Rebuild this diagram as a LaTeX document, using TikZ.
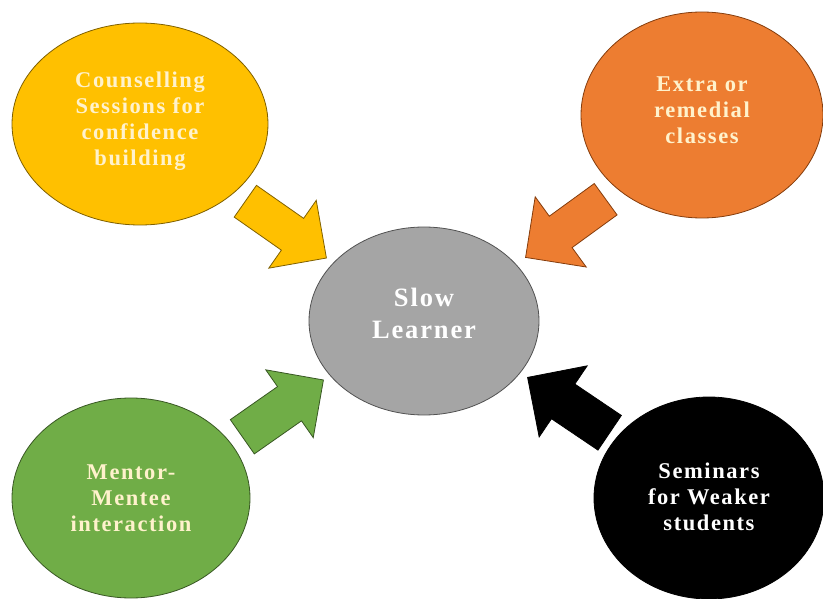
\documentclass[tikz,border=0pt]{standalone}
\usepackage{fontspec}
\setmainfont{Liberation Serif}
\newfontfamily\bubblefont[LetterSpace=7]{Liberation Serif}
\usepackage{xcolor}
\usepackage{tikz}
\usetikzlibrary{shapes.geometric,shapes.arrows}
\definecolor{yel}{HTML}{FFC000}
\definecolor{yeldark}{HTML}{7F6000}
\definecolor{org}{HTML}{ED7D31}
\definecolor{orgdark}{HTML}{843C0C}
\definecolor{grn}{HTML}{70AD47}
\definecolor{grndark}{HTML}{385723}
\definecolor{gry}{HTML}{A5A5A5}
\definecolor{grydark}{HTML}{525252}
\definecolor{cream}{HTML}{FFF2CC}

\begin{document}
\begin{tikzpicture}[x=1pt,y=-1pt,
	bubble/.style={ellipse,inner sep=0pt,line width=0.8pt},
	bubbletext/.style={align=center,inner sep=0pt,
		font=\bubblefont\bfseries\fontsize{22.5}{26}\selectfont,text=cream},
	blockarrow/.style={single arrow,anchor=tail,single arrow head extend=22pt,
		text height=19pt,text depth=19pt,minimum height=99pt,inner sep=0pt,line width=0.8pt}]
	\useasboundingbox (0,0) rectangle (823,599);
	% outer bubbles
	\node[bubble,fill=yel,draw=yeldark,minimum width=256pt,minimum height=202pt] (couns) at (140,124) {};
	\node[bubble,fill=org,draw=orgdark,minimum width=242pt,minimum height=206pt] (extra) at (702,115) {};
	\node[bubble,fill=grn,draw=grndark,minimum width=238pt,minimum height=200pt] (mentor) at (131,498) {};
	\node[bubble,fill=black,draw=black,minimum width=230pt,minimum height=202pt] (semin) at (709,498) {};
	% centre bubble
	\node[bubble,fill=gry,draw=grydark,minimum width=230pt,minimum height=188pt] (slow) at (424,321) {};
	% texts
	\node[bubbletext] (counstext) at ([yshift=3pt]couns) {Counselling\\Sessions for\\confidence\\building};
	\node[bubbletext] (extratext) at ([yshift=5pt]extra) {Extra or\\remedial\\classes};
	\node[bubbletext] (mentortext) at (mentor) {Mentor-\\Mentee\\interaction};
	\node[bubbletext,text=white] (semintext) at ([yshift=1pt]semin) {Seminars\\for Weaker\\students};
	\node[bubbletext,text=white,font=\bubblefont\bfseries\fontsize{26.5}{32}\selectfont] (slowtext) at ([yshift=8pt]slow) {Slow\\Learner};
	% block arrows
	\node[blockarrow,fill=yel,draw=yeldark,rotate=-35] (a1) at (245,201) {};
	\node[blockarrow,fill=org,draw=orgdark,rotate=216,single arrow head extend=24pt] (a2) at (606,199) {};
	\node[blockarrow,fill=grn,draw=grndark,rotate=35,single arrow head extend=20.5pt,text height=20.5pt,text depth=20.5pt] (a3) at (242,437) {};
	\node[blockarrow,fill=black,draw=black,rotate=146,text height=20.5pt,text depth=20.5pt] (a4) at (610,433) {};
\end{tikzpicture}
\end{document}
